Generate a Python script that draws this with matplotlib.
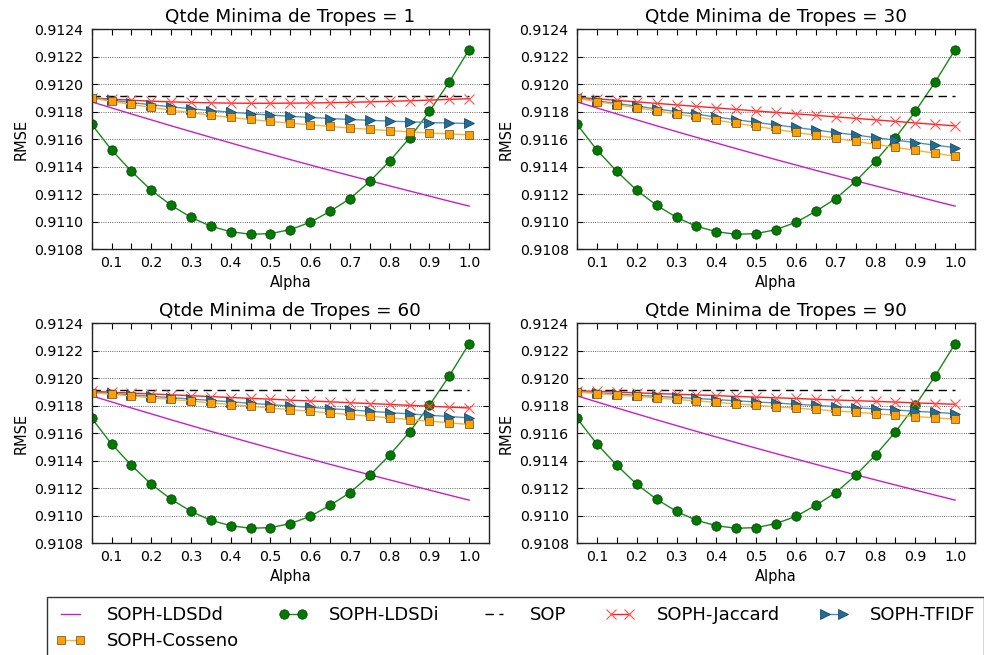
import matplotlib
matplotlib.use("Agg")
import matplotlib.pyplot as plt

alpha = [0.05, 0.10, 0.15, 0.20, 0.25, 0.30, 0.35, 0.40, 0.45, 0.50,
         0.55, 0.60, 0.65, 0.70, 0.75, 0.80, 0.85, 0.90, 0.95, 1.00]

xtick_labels = ["", "0.1", "", "0.2", "", "0.3", "", "0.4", "", "0.5",
                "", "0.6", "", "0.7", "", "0.8", "", "0.9", "", "1.0"]
ytick_values = [0.9108, 0.9110, 0.9112, 0.9114, 0.9116, 0.9118, 0.9120, 0.9122, 0.9124]
ytick_labels = ["0.9108", "0.9110", "0.9112", "0.9114", "0.9116", "0.9118", "0.9120", "0.9122", "0.9124"]

min_tropes = [1, 30, 60, 90]
series_names = ["SOPH-LDSDd", "SOPH-LDSDi", "SOP", "SOPH-Jaccard", "SOPH-TFIDF", "SOPH-Cosseno"]

ldsdd = [0.911870, 0.911826, 0.911782, 0.911739, 0.911696, 0.911654, 0.911612, 0.911571, 0.911530, 0.911490,
         0.911450, 0.911411, 0.911372, 0.911334, 0.911296, 0.911259, 0.911222, 0.911185, 0.911148, 0.911112]
ldsdi = [0.911707, 0.911520, 0.911365, 0.911227, 0.911118, 0.911030, 0.910965, 0.910926, 0.910907, 0.910912,
         0.910941, 0.910994, 0.911074, 0.911166, 0.911292, 0.911440, 0.911607, 0.911801, 0.912015, 0.912250]
sop = [0.911915, 0.911915, 0.911915, 0.911915, 0.911915, 0.911915, 0.911915, 0.911915, 0.911915, 0.911915,
       0.911915, 0.911915, 0.911915, 0.911915, 0.911915, 0.911915, 0.911915, 0.911915, 0.911915, 0.911915]

jaccard_1 = [0.911900, 0.911890, 0.911882, 0.911875, 0.911870, 0.911866, 0.911863, 0.911861, 0.911860, 0.911860,
             0.911861, 0.911862, 0.911864, 0.911867, 0.911870, 0.911874, 0.911878, 0.911883, 0.911888, 0.911893]
tfidf_1 = [0.911900, 0.911882, 0.911865, 0.911849, 0.911834, 0.911820, 0.911807, 0.911795, 0.911784, 0.911774,
           0.911765, 0.911757, 0.911749, 0.911742, 0.911736, 0.911730, 0.911725, 0.911720, 0.911716, 0.911713]
cosseno_1 = [0.911896, 0.911874, 0.911851, 0.911830, 0.911810, 0.911791, 0.911773, 0.911757, 0.911742, 0.911728,
             0.911715, 0.911703, 0.911691, 0.911680, 0.911670, 0.911661, 0.911652, 0.911644, 0.911637, 0.911630]

jaccard_30 = [0.911903, 0.911892, 0.911881, 0.911870, 0.911859, 0.911848, 0.911837, 0.911826, 0.911815, 0.911804,
              0.911793, 0.911783, 0.911772, 0.911761, 0.911750, 0.911739, 0.911728, 0.911717, 0.911706, 0.911695]
tfidf_30 = [0.911898, 0.911878, 0.911858, 0.911839, 0.911819, 0.911799, 0.911780, 0.911760, 0.911740, 0.911721,
            0.911702, 0.911684, 0.911665, 0.911647, 0.911629, 0.911610, 0.911592, 0.911574, 0.911555, 0.911537]
cosseno_30 = [0.911895, 0.911872, 0.911850, 0.911827, 0.911805, 0.911782, 0.911760, 0.911737, 0.911715, 0.911692,
              0.911670, 0.911648, 0.911627, 0.911605, 0.911583, 0.911561, 0.911539, 0.911518, 0.911496, 0.911474]

jaccard_60 = [0.911903, 0.911897, 0.911890, 0.911884, 0.911878, 0.911871, 0.911865, 0.911858, 0.911852, 0.911846,
              0.911839, 0.911833, 0.911827, 0.911820, 0.911814, 0.911808, 0.911801, 0.911795, 0.911788, 0.911782]
tfidf_60 = [0.911898, 0.911888, 0.911878, 0.911867, 0.911857, 0.911847, 0.911837, 0.911827, 0.911816, 0.911806,
            0.911796, 0.911787, 0.911777, 0.911768, 0.911758, 0.911748, 0.911739, 0.911729, 0.911720, 0.911710]
cosseno_60 = [0.911893, 0.911881, 0.911869, 0.911856, 0.911844, 0.911832, 0.911819, 0.911807, 0.911795, 0.911782,
              0.911770, 0.911758, 0.911746, 0.911734, 0.911722, 0.911710, 0.911698, 0.911686, 0.911674, 0.911662]

jaccard_90 = [0.911908, 0.911903, 0.911898, 0.911892, 0.911887, 0.911882, 0.911877, 0.911872, 0.911866, 0.911861,
              0.911856, 0.911851, 0.911845, 0.911840, 0.911835, 0.911830, 0.911825, 0.911819, 0.911814, 0.911809]
tfidf_90 = [0.911900, 0.911892, 0.911884, 0.911875, 0.911867, 0.911859, 0.911851, 0.911843, 0.911834, 0.911826,
            0.911818, 0.911809, 0.911801, 0.911792, 0.911784, 0.911775, 0.911767, 0.911758, 0.911750, 0.911741]
cosseno_90 = [0.911898, 0.911887, 0.911876, 0.911866, 0.911855, 0.911844, 0.911833, 0.911823, 0.911812, 0.911801,
              0.911791, 0.911781, 0.911771, 0.911761, 0.911751, 0.911740, 0.911730, 0.911720, 0.911710, 0.911700]

jaccard = [jaccard_1, jaccard_30, jaccard_60, jaccard_90]
tfidf = [tfidf_1, tfidf_30, tfidf_60, tfidf_90]
cosseno = [cosseno_1, cosseno_30, cosseno_60, cosseno_90]

plt.rcParams["font.family"] = ["DejaVu Sans"]
plt.rcParams["lines.markeredgewidth"] = 0.5

W, H = 984, 655
fig = plt.figure(figsize=(W / 100, H / 100), dpi=100, facecolor="white")

# axes boxes in pixels: left, top, right, bottom
boxes = [(91.7, 29, 489, 249), (577, 29, 975, 249),
         (91.7, 323, 489, 543), (577, 323, 975, 543)]

handles = None
for i, (l, t, r, b) in enumerate(boxes):
    ax = fig.add_axes([l / W, 1 - b / H, (r - l) / W, (b - t) / H])
    h1, = ax.plot(alpha, ldsdd, color="#c71fc7", lw=1.0)
    h2, = ax.plot(alpha, ldsdi, color="#178a17", lw=1.0, marker="o", ms=6.8,
                  mfc="#007a00", mec="#0a3a0a")
    h3, = ax.plot(alpha, sop, color="black", lw=1.0, ls="--", dashes=(6, 4))
    h4, = ax.plot(alpha, jaccard[i], color="#ff2020", lw=1.0, marker="x", ms=7,
                  mec="#ff5050", mew=0.8)
    h5, = ax.plot(alpha, tfidf[i], color="#4a93bd", lw=1.0, marker=">", ms=7,
                  mfc="#1f6d99", mec="#123a50")
    h6, = ax.plot(alpha, cosseno[i], color="#ffb02e", lw=1.0, marker="s", ms=6,
                  mfc="#ffa000", mec="#5a4a30")
    handles = [h1, h2, h3, h4, h5, h6]

    ax.set_xlim(0.05, 1.05)
    ax.set_ylim(0.9108, 0.9124)
    ax.set_xticks(alpha)
    ax.set_xticklabels(xtick_labels)
    ax.set_yticks(ytick_values)
    ax.set_yticklabels(ytick_labels)
    ax.tick_params(direction="in", top=True, right=True, length=4, width=0.8,
                   labelsize=10.2, colors="black", pad=6)
    ax.tick_params(axis="x", pad=5)
    ax.yaxis.grid(True, color="black", linestyle=":", linewidth=0.6, alpha=0.8)
    ax.set_axisbelow(True)
    for s in ax.spines.values():
        s.set_linewidth(1.0)
        s.set_color("#222222")
    ax.set_title("Qtde Minima de Tropes = %d" % min_tropes[i], fontsize=13.2, pad=5)
    ax.set_xlabel("Alpha", fontsize=10.5, labelpad=4)
    ax.set_ylabel("RMSE", fontsize=10.5, labelpad=4)

# matplotlib fills legend columns first: reorder so the first row reads
# LDSDd, LDSDi, SOP, Jaccard, TFIDF and the second row holds Cosseno
order = [0, 5, 1, 2, 3, 4]
leg = fig.legend([handles[k] for k in order], [series_names[k] for k in order],
                 loc="upper left", bbox_to_anchor=(47 / W, 1 - 597 / H), ncol=5,
                 fontsize=13, numpoints=2, handlelength=1.6, handletextpad=1.2,
                 columnspacing=2.2, borderpad=0.5, labelspacing=0.45,
                 fancybox=False, frameon=True, borderaxespad=0)
leg.get_frame().set_edgecolor("black")
leg.get_frame().set_linewidth(1.0)

fig.savefig("out.png", dpi=100, facecolor="white")
